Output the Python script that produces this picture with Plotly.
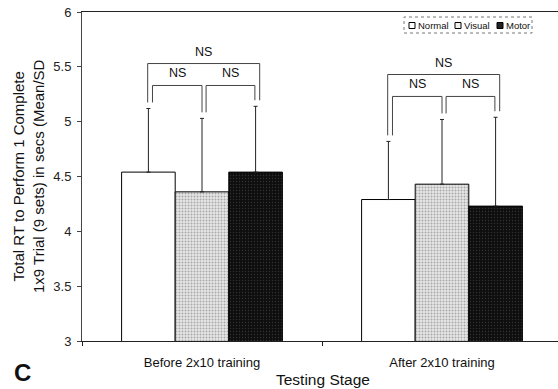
import plotly.graph_objects as go

stages = ["Before 2x10 training", "After 2x10 training"]
series = ["Normal", "Visual", "Motor"]
normal_mean = [4.54, 4.29]
visual_mean = [4.36, 4.43]
motor_mean = [4.54, 4.23]
normal_sd = [0.58, 0.53]
visual_sd = [0.67, 0.59]
motor_sd = [0.60, 0.81]
y_ticks = [3, 3.5, 4, 4.5, 5, 5.5, 6]
sig_labels = ["NS", "NS", "NS"]

W, H = 558, 389
L, R, T, B = 82, 0, 12, 48
PW, PH = W - L - R, H - T - B
FONT = "Liberation Sans, Arial, sans-serif"

def px_x(p):
    return (p - L) / PW

def px_y(p):
    return (H - B - p) / PH

x_idx = [0, 1]
bargap = 0.33
bw = (1 - bargap) / 3
offsets = [-bw, 0, bw]

fig = go.Figure()
styles = [
    dict(color="white", pattern=None),
    dict(color="#d0d0d0", pattern=dict(shape=".", fgcolor="#6a6a6a", bgcolor="#e6e6e6", size=3, solidity=0.35)),
    dict(color="#111111", pattern=dict(shape=".", fgcolor="#5a5a5a", bgcolor="#0e0e0e", size=3, solidity=0.15)),
]
means = [normal_mean, visual_mean, motor_mean]
sds = [normal_sd, visual_sd, motor_sd]
for name, m, s, st in zip(series, means, sds, styles):
    marker = dict(color=st["color"], line=dict(color="black", width=1))
    if st["pattern"]:
        marker["pattern"] = st["pattern"]
    fig.add_trace(go.Bar(
        x=x_idx, y=m, name=name, marker=marker,
        error_y=dict(type="data", symmetric=False, array=s, arrayminus=[0] * len(s),
                     color="#222", thickness=1, width=2),
        showlegend=False, hoverinfo="skip",
    ))

# significance brackets derived from data
gap = 0.055
line_col = "#444"
ns_font = dict(family=FONT, size=12.5, color="#111")
for i in x_idx:
    tops = [means[k][i] + sds[k][i] for k in range(3)]
    xs = [i + o for o in offsets]
    gmax = max(tops)
    inner_top = gmax + 0.19
    outer_top = gmax + 0.39
    d = 0.017
    pairs = [
        (xs[0] + d, tops[0], xs[1], tops[1], inner_top, sig_labels[0]),
        (xs[1] + d, tops[1], xs[2] - 0.003, tops[2], inner_top, sig_labels[1]),
        (xs[0] - 0.003, tops[0], xs[2] + d, tops[2], outer_top, sig_labels[2]),
    ]
    for a, ta, b, tb, top, lab in pairs:
        fig.add_shape(type="path", xref="x", yref="y",
                      path=f"M {a},{ta+gap} L {a},{top} L {b},{top} L {b},{tb+gap}",
                      line=dict(color=line_col, width=1))
        fig.add_annotation(x=(a + b) / 2, y=top, text=lab, showarrow=False,
                           xanchor="center", yanchor="bottom", yshift=3, font=ns_font)

# manual legend
fig.add_shape(type="rect", xref="paper", yref="paper",
              x0=px_x(404), x1=px_x(532), y0=px_y(33), y1=px_y(17),
              line=dict(color="#777", width=1, dash="dot"), fillcolor="white")
leg_x = [409, 455, 497]
leg_fill = ["white", "#f0f0f0", "#222"]
for name, fc, lx in zip(series, leg_fill, leg_x):
    fig.add_shape(type="rect", xref="paper", yref="paper",
                  x0=px_x(lx), x1=px_x(lx + 6), y0=px_y(28.5), y1=px_y(22.5),
                  line=dict(color="black", width=1), fillcolor=fc)
    fig.add_annotation(x=px_x(lx + 6.5), y=px_y(25.5), xref="paper", yref="paper", text=name,
                       showarrow=False, xanchor="left", yanchor="middle",
                       font=dict(family=FONT, size=9.5, color="#111"))

# y axis title
fig.add_annotation(x=px_x(28), y=px_y(176), xref="paper", yref="paper",
                   text="Total RT to Perform 1 Complete<br>1x9 Trial (9 sets) in secs (Mean/SD",
                   textangle=-90, showarrow=False, xanchor="center", yanchor="middle",
                   font=dict(family=FONT, size=15, color="#111"))
# panel letter
fig.add_annotation(x=px_x(22), y=px_y(372), xref="paper", yref="paper", text="<b>C</b>",
                   showarrow=False, xanchor="center", yanchor="middle",
                   font=dict(family=FONT, size=24, color="#111"))
# x axis title
fig.add_annotation(x=px_x(323), y=px_y(379), xref="paper", yref="paper", text="Testing Stage",
                   showarrow=False, xanchor="center", yanchor="middle",
                   font=dict(family=FONT, size=15.5, color="#111"))

fig.update_layout(
    width=W, height=H, margin=dict(l=L, r=R, t=T, b=B, pad=0),
    paper_bgcolor="white", plot_bgcolor="white",
    barmode="group", bargap=bargap, bargroupgap=0,
    font=dict(family=FONT, size=13, color="#111"),
    hovermode=False,
    xaxis=dict(range=[-0.5, -0.5 + PW / 240], tickvals=x_idx, ticktext=stages,
               ticks="", showline=True, linecolor="#222", linewidth=1, mirror=True,
               showgrid=False, zeroline=False, ticklabelstandoff=9,
               tickfont=dict(family=FONT, size=13, color="#111"),
               minor=dict(tickmode="linear", tick0=-0.5, dtick=1, ticks="outside",
                          ticklen=4, tickcolor="#222", showgrid=False)),
    yaxis=dict(range=[3, 6], tickvals=y_ticks, ticks="outside", ticklen=4, tickcolor="#444",
               showline=True, linecolor="#444", linewidth=1, showgrid=False, zeroline=False,
               ticklabelstandoff=3,
               tickfont=dict(family=FONT, size=13, color="#222")),
)
fig.write_html("out.html", config={"displayModeBar": False},
               post_script="document.body.style.margin='0';document.body.style.overflow='hidden';")
